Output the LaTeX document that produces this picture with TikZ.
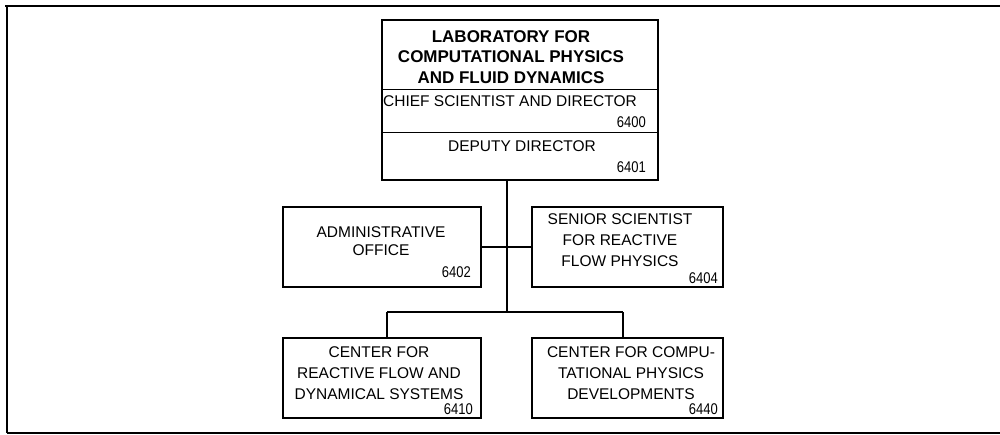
\documentclass[tikz,border=0pt]{standalone}
\usepackage{fontspec}
\setmainfont{Liberation Sans}
\newcommand\narrownum[1]{\scalebox{0.84}[1]{#1}}
\begin{document}
\begin{tikzpicture}[x=1pt,y=-1pt,
  box/.style={draw, line width=1.3pt, inner sep=0pt},
  txt/.style={inner sep=0pt, align=center, font=\fontsize{15.5}{21}\selectfont},
  num/.style={inner sep=0pt, anchor=east, font=\fontsize{15.5}{18}\selectfont},
  conn/.style={line width=1.2pt}]
\useasboundingbox (0,0) rectangle (1000,435);
% outer frame
\draw[line width=2.2pt] (5,6) -- (1002,6);
\draw[line width=1.2pt] (7,6) -- (7,433);
\draw[line width=1.5pt] (7,433) -- (1002,433);
% boxes
\node[box, minimum width=276pt, minimum height=160pt] (top) at (520,100) {};
\draw[line width=1pt] (top.west |- 0,90) -- (top.east |- 0,90);
\draw[line width=1pt] (top.west |- 0,133) -- (top.east |- 0,133);
\node[box, minimum width=198pt, minimum height=80pt] (admin) at (382,247) {};
\node[box, minimum width=191pt, minimum height=80pt] (senior) at (627.5,247) {};
\node[box, minimum width=198pt, minimum height=80pt] (crf) at (382,378) {};
\node[box, minimum width=191pt, minimum height=80pt] (ccp) at (627.5,378) {};
% texts
\node[txt, font=\fontsize{17}{20.5}\selectfont\bfseries] (ttitle) at (511,57) {LABORATORY FOR\\COMPUTATIONAL PHYSICS\\AND FLUID DYNAMICS};
\node[txt] (tchief) at (510,101) {CHIEF SCIENTIST AND DIRECTOR};
\node[num] (n6400) at (646,122) {\narrownum{6400}};
\node[txt] (tdep) at (522,146) {DEPUTY DIRECTOR};
\node[num] (n6401) at (646,167) {\narrownum{6401}};
\node[txt, font=\fontsize{15.5}{18.5}\selectfont] (tadmin) at (381,241) {ADMINISTRATIVE\\OFFICE};
\node[num] (n6402) at (471,272) {\narrownum{6402}};
\node[txt] (tsenior) at (620,240) {SENIOR SCIENTIST\\FOR REACTIVE\\FLOW PHYSICS};
\node[num] (n6404) at (718,278) {\narrownum{6404}};
\node[txt] (tcrf) at (379,373) {CENTER FOR\\REACTIVE FLOW AND\\DYNAMICAL SYSTEMS};
\node[num] (n6410) at (473,409) {\narrownum{6410}};
\node[txt] (tccp) at (631,373) {CENTER FOR COMPU-\\TATIONAL PHYSICS\\DEVELOPMENTS};
\node[num] (n6440) at (718,409) {\narrownum{6440}};
% connectors
\coordinate (j2) at (507,312);
\coordinate (d1) at (387,312);
\coordinate (d2) at (623,312);
\draw[conn] (top.south -| j2) -- (j2);
\draw[conn] (admin.east) -- (senior.west);
\draw[conn] (d1) -- (d2);
\draw[conn] (d1) -- (d1 |- crf.north);
\draw[conn] (d2) -- (d2 |- ccp.north);
\end{tikzpicture}
\end{document}
